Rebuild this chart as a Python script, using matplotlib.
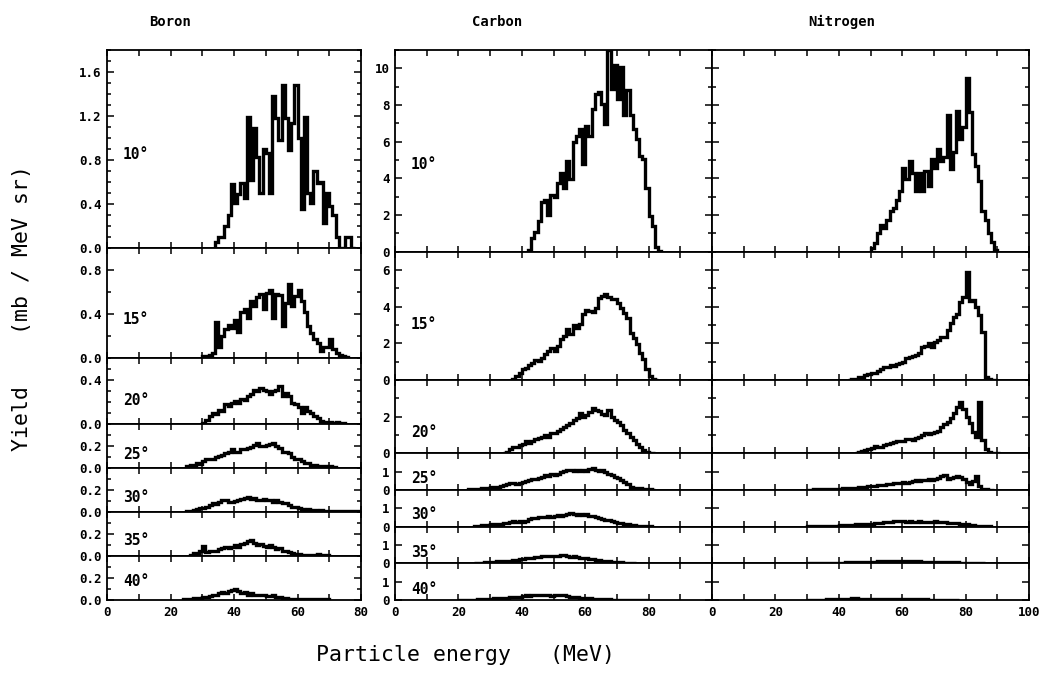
import numpy as np
import matplotlib.pyplot as plt
from matplotlib.ticker import FixedLocator, MultipleLocator, NullLocator, FormatStrFormatter

# ---- data (yield, mb / MeV sr), one value per energy bin ----
angles = ["10°", "15°", "20°", "25°", "30°", "35°", "40°"]

boron_10 = [0.05, 0.1, 0.1, 0.2, 0.3, 0.58, 0.41, 0.49, 0.59, 0.45, 1.19, 0.62, 1.09, 0.83,
            0.5, 0.9, 0.86, 0.5, 1.38, 1.18, 0.98, 1.48, 1.18, 0.89, 1.14, 1.48, 1.0, 0.35,
            1.19, 0.5, 0.41, 0.7, 0.59, 0.6, 0.23, 0.5, 0.38, 0.3, 0.1, 0.0, 0.0, 0.1, 0.1, 0.0]
boron_15 = [0.02, 0.02, 0.03, 0.05, 0.33, 0.1, 0.2, 0.26, 0.3, 0.27, 0.35, 0.24, 0.42, 0.45,
            0.36, 0.52, 0.47, 0.55, 0.58, 0.45, 0.59, 0.62, 0.36, 0.58, 0.57, 0.29, 0.5, 0.67,
            0.47, 0.56, 0.62, 0.52, 0.42, 0.29, 0.23, 0.17, 0.14, 0.06, 0.1, 0.1, 0.17, 0.08,
            0.05, 0.03, 0.02, 0.01]
boron_20 = [0.01, 0.04, 0.07, 0.1, 0.09, 0.13, 0.12, 0.18, 0.16, 0.19, 0.21, 0.19, 0.23, 0.22,
            0.25, 0.27, 0.31, 0.3, 0.33, 0.31, 0.3, 0.27, 0.3, 0.31, 0.35, 0.25, 0.28, 0.25,
            0.19, 0.18, 0.15, 0.1, 0.15, 0.12, 0.1, 0.07, 0.05, 0.03, 0.02, 0.02, 0.02, 0.01,
            0.02, 0.01, 0.01]
boron_25 = [0.02, 0.03, 0.03, 0.05, 0.04, 0.06, 0.08, 0.08, 0.08, 0.1, 0.11, 0.12, 0.14, 0.15,
            0.17, 0.15, 0.15, 0.17, 0.17, 0.18, 0.19, 0.21, 0.23, 0.2, 0.2, 0.21, 0.22, 0.23,
            0.2, 0.18, 0.15, 0.15, 0.14, 0.1, 0.08, 0.08, 0.06, 0.05, 0.05, 0.03, 0.03, 0.02,
            0.02, 0.02, 0.01, 0.02, 0.01]
boron_30 = [0.01, 0.01, 0.02, 0.03, 0.04, 0.04, 0.05, 0.06, 0.08, 0.07, 0.09, 0.11, 0.11, 0.09,
            0.09, 0.1, 0.11, 0.12, 0.13, 0.14, 0.12, 0.13, 0.11, 0.11, 0.12, 0.11, 0.11, 0.09,
            0.11, 0.09, 0.08, 0.08, 0.06, 0.05, 0.05, 0.04, 0.03, 0.02, 0.03, 0.02, 0.02, 0.01,
            0.02, 0.01, 0.01, 0.01, 0.01, 0.01, 0.01, 0.01, 0.01, 0.01, 0.01, 0.01, 0.01]
boron_35 = [0.01, 0.03, 0.03, 0.05, 0.09, 0.04, 0.05, 0.05, 0.05, 0.06, 0.07, 0.08, 0.07, 0.08,
            0.1, 0.08, 0.11, 0.12, 0.14, 0.15, 0.12, 0.1, 0.11, 0.09, 0.08, 0.1, 0.08, 0.06,
            0.07, 0.05, 0.05, 0.04, 0.03, 0.02, 0.02, 0.01, 0.01, 0.01, 0.01, 0.01, 0.02, 0.01,
            0.01, 0.01]
boron_40 = [0.01, 0.01, 0.01, 0.02, 0.02, 0.02, 0.03, 0.03, 0.04, 0.05, 0.05, 0.06, 0.07, 0.06,
            0.08, 0.09, 0.1, 0.08, 0.06, 0.07, 0.05, 0.06, 0.05, 0.05, 0.05, 0.05, 0.04, 0.04,
            0.05, 0.03, 0.03, 0.02, 0.02, 0.01, 0.01, 0.01, 0.01, 0.01, 0.01, 0.01, 0.01, 0.01,
            0.01, 0.01, 0.01, 0.01]

carbon_10 = [0.1, 0.73, 1.1, 1.65, 2.7, 2.84, 2.0, 3.1, 3.0, 3.76, 4.3, 3.5, 4.95, 3.95, 5.96,
             6.33, 6.7, 4.77, 6.88, 6.33, 7.8, 8.62, 8.72, 8.07, 6.97, 11.0, 8.9, 10.2, 8.35,
             10.1, 7.43, 8.8, 7.43, 6.7, 6.15, 5.23, 5.05, 3.49, 1.93, 1.38, 0.28, 0.04]
carbon_15 = [0.05, 0.22, 0.4, 0.58, 0.67, 0.8, 0.95, 1.09, 1.04, 1.22, 1.4, 1.58, 1.76, 1.58,
             1.85, 2.22, 2.4, 2.76, 2.49, 2.98, 2.85, 3.04, 3.58, 3.82, 3.76, 3.71, 3.95, 4.49,
             4.58, 4.67, 4.55, 4.44, 4.4, 4.22, 3.95, 3.67, 3.4, 2.58, 2.31, 1.95, 1.49, 1.13,
             0.58, 0.22, 0.07, 0.02]
carbon_20 = [0.02, 0.05, 0.22, 0.33, 0.36, 0.45, 0.51, 0.69, 0.58, 0.67, 0.76, 0.82, 0.91, 1.0,
             0.91, 1.09, 1.13, 1.24, 1.31, 1.42, 1.55, 1.67, 1.82, 1.91, 2.18, 2.0, 2.09, 2.27,
             2.45, 2.36, 2.33, 2.15, 2.09, 2.36, 1.96, 1.82, 1.73, 1.55, 1.27, 1.09, 0.91, 0.73,
             0.51, 0.33, 0.18, 0.07, 0.03, 0.01]
carbon_25 = [0.03, 0.04, 0.05, 0.07, 0.09, 0.1, 0.13, 0.15, 0.16, 0.18, 0.22, 0.27, 0.31, 0.36,
             0.4, 0.35, 0.36, 0.44, 0.49, 0.55, 0.58, 0.62, 0.67, 0.73, 0.8, 0.76, 0.85, 0.8,
             0.85, 1.0, 1.04, 1.09, 1.07, 1.04, 1.07, 1.04, 1.09, 1.04, 1.16, 1.22, 1.09, 1.04,
             1.09, 0.98, 0.89, 0.8, 0.73, 0.64, 0.55, 0.44, 0.35, 0.18, 0.11, 0.1, 0.09, 0.07,
             0.05, 0.03, 0.02]
carbon_30 = [0.02, 0.05, 0.09, 0.1, 0.11, 0.13, 0.13, 0.15, 0.16, 0.18, 0.2, 0.24, 0.29, 0.27,
             0.33, 0.24, 0.33, 0.42, 0.45, 0.47, 0.51, 0.55, 0.51, 0.56, 0.55, 0.6, 0.64, 0.6,
             0.64, 0.69, 0.75, 0.69, 0.64, 0.69, 0.64, 0.67, 0.6, 0.56, 0.51, 0.45, 0.42, 0.38,
             0.35, 0.31, 0.27, 0.22, 0.18, 0.15, 0.13, 0.09, 0.07, 0.05, 0.04, 0.03, 0.02, 0.01]
carbon_35 = [0.02, 0.03, 0.04, 0.05, 0.06, 0.07, 0.09, 0.1, 0.11, 0.13, 0.13, 0.15, 0.18, 0.2,
             0.22, 0.24, 0.27, 0.29, 0.31, 0.35, 0.36, 0.4, 0.38, 0.42, 0.4, 0.38, 0.4, 0.44,
             0.45, 0.4, 0.36, 0.38, 0.35, 0.31, 0.29, 0.27, 0.24, 0.22, 0.2, 0.18, 0.15, 0.13,
             0.11, 0.09, 0.07, 0.06, 0.05, 0.04, 0.03, 0.02, 0.01]
carbon_40 = [0.02, 0.02, 0.02, 0.02, 0.02, 0.02, 0.04, 0.05, 0.07, 0.07, 0.08, 0.09, 0.11, 0.1,
             0.13, 0.13, 0.15, 0.14, 0.16, 0.18, 0.24, 0.25, 0.22, 0.25, 0.27, 0.25, 0.27, 0.25,
             0.25, 0.24, 0.25, 0.27, 0.29, 0.25, 0.22, 0.18, 0.16, 0.15, 0.13, 0.11, 0.1, 0.09,
             0.07, 0.06, 0.05, 0.04, 0.03, 0.03, 0.02, 0.02, 0.02, 0.01, 0.01, 0.01, 0.01, 0.01,
             0.01, 0.01, 0.01, 0.01]

nitrogen_10 = [0.18, 0.46, 1.0, 1.47, 1.28, 1.74, 2.2, 2.39, 2.84, 3.3, 4.59, 3.94, 4.95, 4.31,
               3.3, 4.31, 3.3, 4.4, 3.58, 5.05, 4.59, 5.6, 4.95, 5.14, 7.43, 4.5, 5.41, 7.7, 6.15,
               6.79, 9.45, 7.6, 5.32, 4.68, 3.85, 2.2, 1.74, 1.0, 0.55, 0.09]
nitrogen_15 = [0.02, 0.04, 0.07, 0.15, 0.18, 0.27, 0.33, 0.36, 0.4, 0.51, 0.58, 0.73, 0.69, 0.82,
               0.78, 0.87, 0.95, 1.0, 1.18, 1.24, 1.31, 1.36, 1.45, 1.78, 1.85, 2.04, 1.82, 2.09,
               2.18, 2.33, 2.36, 2.73, 3.09, 3.42, 3.6, 4.27, 4.51, 5.9, 4.3, 4.36, 4.0, 3.55, 2.6,
               0.15, 0.04, 0.02, 0.01]
nitrogen_20 = [0.04, 0.07, 0.15, 0.18, 0.22, 0.29, 0.4, 0.33, 0.36, 0.44, 0.51, 0.55, 0.62, 0.65,
               0.67, 0.69, 0.76, 0.8, 0.73, 0.82, 0.91, 0.98, 1.13, 1.05, 1.09, 1.16, 1.24, 1.45,
               1.6, 1.73, 1.91, 2.22, 2.55, 2.8, 2.4, 2.0, 1.64, 1.18, 0.91, 2.82, 0.73, 0.22,
               0.09, 0.04, 0.02, 0.01]
nitrogen_25 = [0.01, 0.02, 0.03, 0.03, 0.04, 0.04, 0.05, 0.06, 0.07, 0.07, 0.08, 0.09, 0.1, 0.11,
               0.12, 0.13, 0.14, 0.16, 0.18, 0.2, 0.22, 0.24, 0.26, 0.25, 0.27, 0.31, 0.35, 0.36,
               0.4, 0.38, 0.44, 0.4, 0.45, 0.47, 0.55, 0.49, 0.53, 0.55, 0.58, 0.56, 0.62, 0.67,
               0.76, 0.8, 0.62, 0.67, 0.73, 0.76, 0.69, 0.58, 0.44, 0.33, 0.49, 0.76, 0.22, 0.07,
               0.04, 0.02, 0.01]
nitrogen_30 = [0.01, 0.01, 0.02, 0.02, 0.02, 0.03, 0.04, 0.04, 0.05, 0.06, 0.07, 0.08, 0.09, 0.09,
               0.1, 0.12, 0.13, 0.13, 0.14, 0.15, 0.16, 0.18, 0.2, 0.22, 0.24, 0.25, 0.27, 0.29,
               0.31, 0.29, 0.29, 0.27, 0.29, 0.27, 0.27, 0.29, 0.27, 0.27, 0.25, 0.27, 0.29, 0.25,
               0.24, 0.25, 0.22, 0.2, 0.2, 0.18, 0.16, 0.15, 0.13, 0.1, 0.07, 0.05, 0.04, 0.03,
               0.02, 0.01]
nitrogen_35 = [0.01, 0.02, 0.02, 0.03, 0.04, 0.04, 0.05, 0.06, 0.07, 0.08, 0.09, 0.1, 0.11, 0.12,
               0.13, 0.12, 0.11, 0.1, 0.09, 0.08, 0.08, 0.07, 0.06, 0.05, 0.04, 0.03, 0.02, 0.01]
nitrogen_40 = [0.01, 0.01, 0.02, 0.03, 0.04, 0.06, 0.08, 0.09, 0.07, 0.06, 0.06, 0.05, 0.05, 0.05,
               0.06, 0.05, 0.04, 0.03, 0.03, 0.02, 0.02, 0.02, 0.01, 0.01]

# first bin edge (MeV) and bin width (MeV) of each spectrum, per angle
boron_start = [34, 30, 30, 25, 25, 26, 24]
carbon_start = [42, 37, 34, 23, 25, 25, 20]
nitrogen_start = [50, 43, 45, 30, 30, 30, 30]
boron_width = [1, 1, 1, 1, 1, 1, 1]
carbon_width = [1, 1, 1, 1, 1, 1, 1]
nitrogen_width = [1, 1, 1, 1, 1, 2, 2]

boron_ylim = [1.8, 1.0, 0.6, 0.4, 0.4, 0.4, 0.4]
carbon_ylim = [11, 7, 4, 2, 2, 2, 2]
boron_yticks = [[0, 0.4, 0.8, 1.2, 1.6], [0, 0.4, 0.8], [0, 0.4], [0, 0.2], [0, 0.2], [0, 0.2], [0, 0.2]]
carbon_yticks = [[0, 2, 4, 6, 8, 10], [0, 2, 4, 6], [0, 2], [0, 1], [0, 1], [0, 1], [0, 1]]
boron_minor = [0.1, 0.2, 0.1, 0.1, 0.1, 0.1, 0.1]
carbon_minor = [1, 1, 1, None, None, None, None]

# ---- layout ----
W, H = 1041, 681
TOP, BOTTOM = 50, 600
MONO = "DejaVu Sans Mono"

boron_label_pos = [0.47, 0.35, 0.36, 0.30, 0.34, 0.36, 0.41]
carbon_label_pos = [0.43, 0.43, 0.29, 0.32, 0.32, 0.30, 0.28]

fig = plt.figure(figsize=(W / 100, H / 100), dpi=100)


def draw_column(left, right, spectra, starts, widths, ylims, yticks, minors,
                xmax, xticklabels, ylabel_fmt=None, label_pos=None):
    total = sum(ylims)
    top = TOP
    for i, vals in enumerate(spectra):
        h = (BOTTOM - TOP) * ylims[i] / total
        ax = fig.add_axes([left / W, 1 - (top + h) / H, (right - left) / W, h / H])
        top += h

        edges = starts[i] + widths[i] * np.arange(len(vals) + 1)
        ax.stairs(vals, edges, color="black", linewidth=2.4)

        ax.set_xlim(0, xmax)
        ax.set_ylim(0, ylims[i])
        for s in ax.spines.values():
            s.set_linewidth(1.3)

        ax.xaxis.set_major_locator(MultipleLocator(20))
        ax.xaxis.set_minor_locator(MultipleLocator(10))
        ax.yaxis.set_major_locator(FixedLocator(yticks[i]))
        if minors[i]:
            ax.yaxis.set_minor_locator(MultipleLocator(minors[i]))
        else:
            ax.yaxis.set_minor_locator(NullLocator())

        ax.tick_params(which="both", direction="in", top=True, right=True,
                       width=1.1, labelsize=9, pad=4)
        ax.tick_params(axis="x", which="both", length=4)
        ax.tick_params(axis="y", which="major", length=5)
        ax.tick_params(axis="y", which="minor", length=3)

        if ylabel_fmt is None:
            ax.set_yticklabels([])
        else:
            ax.yaxis.set_major_formatter(FormatStrFormatter(ylabel_fmt))

        if i == len(spectra) - 1:
            ticks = list(range(0, xmax + 1, 20))
            ax.set_xticks(ticks)
            ax.set_xticklabels(xticklabels[:len(ticks)])
        else:
            ax.set_xticklabels([])

        for lab in ax.get_xticklabels() + ax.get_yticklabels():
            lab.set_family(MONO)
            lab.set_fontweight("bold")

        if label_pos is not None:
            ax.text(5, ylims[i] * label_pos[i], angles[i], family=MONO,
                    fontweight="bold", fontsize=10.5, va="center", ha="left")


boron = [boron_10, boron_15, boron_20, boron_25, boron_30, boron_35, boron_40]
carbon = [carbon_10, carbon_15, carbon_20, carbon_25, carbon_30, carbon_35, carbon_40]
nitrogen = [nitrogen_10, nitrogen_15, nitrogen_20, nitrogen_25, nitrogen_30, nitrogen_35, nitrogen_40]

draw_column(107, 361, boron, boron_start, boron_width, boron_ylim, boron_yticks,
            boron_minor, 80, ["0", "20", "40", "60", "80"], "%.1f", boron_label_pos)
draw_column(395, 712, carbon, carbon_start, carbon_width, carbon_ylim, carbon_yticks,
            carbon_minor, 100, ["0", "20", "40", "60", "80", ""], "%g", carbon_label_pos)
draw_column(712, 1029, nitrogen, nitrogen_start, nitrogen_width, carbon_ylim, carbon_yticks,
            carbon_minor, 100, ["0", "20", "40", "60", "80", "100"], None, None)

# column titles and axis titles
for name, cx in [("Boron", 170), ("Carbon", 497), ("Nitrogen", 842)]:
    fig.text(cx / W, 1 - 22 / H, name, family=MONO, fontweight="bold",
             fontsize=10, ha="center", va="center")

fig.text(465 / W, 1 - 655 / H, "Particle energy   (MeV)", family=MONO,
         fontsize=15.5, ha="center", va="center")
fig.text(22 / W, 1 - 308 / H, "Yield    (mb / MeV sr)", family=MONO,
         fontsize=15.5, ha="center", va="center", rotation=90)

fig.savefig("out.png", dpi=100, facecolor="white")
